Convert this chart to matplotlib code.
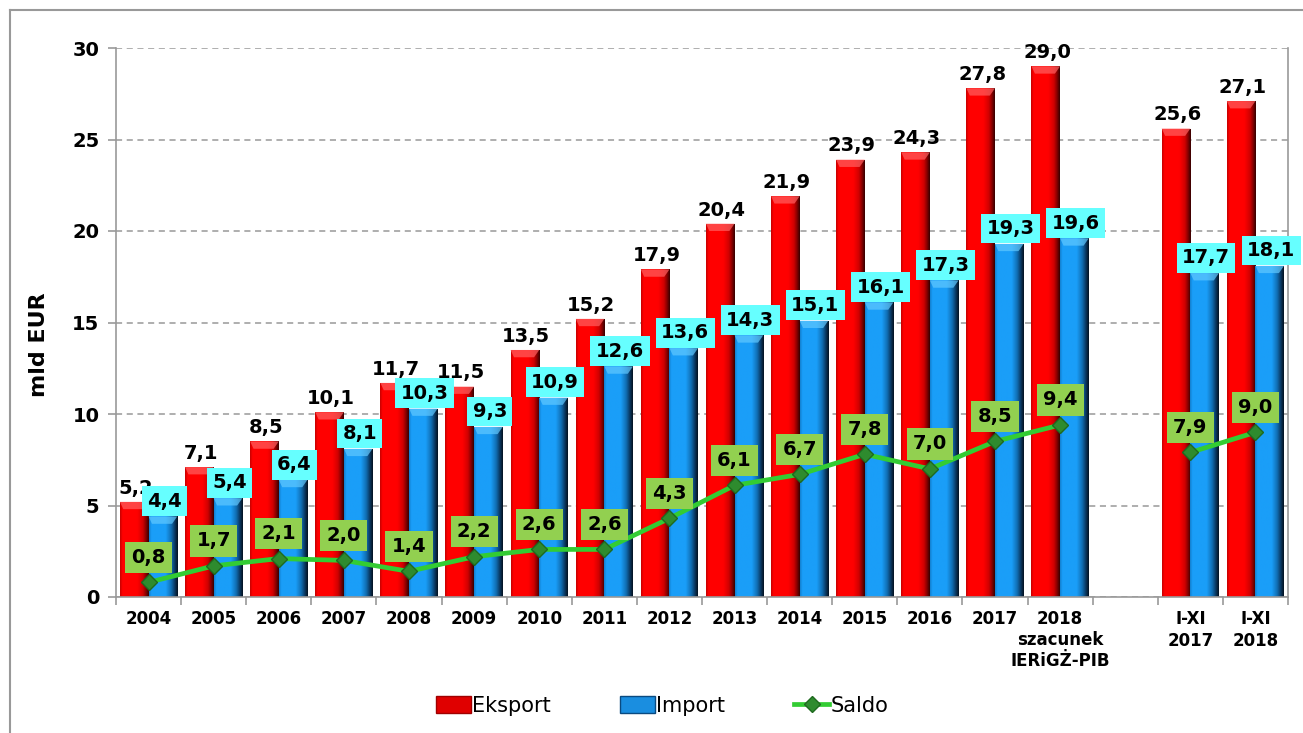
# Eksport / import / saldo - wykres słupkowy z linią

import numpy as np
import matplotlib.pyplot as plt
from matplotlib.colors import LinearSegmentedColormap
from matplotlib.lines import Line2D
from matplotlib.patches import Polygon, Patch

plt.rcParams.update({
    "font.family": ["DejaVu Sans"],
})

categories = ["2004", "2005", "2006", "2007", "2008", "2009", "2010", "2011",
              "2012", "2013", "2014", "2015", "2016", "2017",
              "2018", "", "I-XI\n2017", "I-XI\n2018"]
note_2018 = "szacunek\nIERiGŻ-PIB"
eksport = [5.2, 7.1, 8.5, 10.1, 11.7, 11.5, 13.5, 15.2, 17.9, 20.4, 21.9,
           23.9, 24.3, 27.8, 29.0, None, 25.6, 27.1]
imports = [4.4, 5.4, 6.4, 8.1, 10.3, 9.3, 10.9, 12.6, 13.6, 14.3, 15.1,
           16.1, 17.3, 19.3, 19.6, None, 17.7, 18.1]
saldo = [0.8, 1.7, 2.1, 2.0, 1.4, 2.2, 2.6, 2.6, 4.3, 6.1, 6.7,
         7.8, 7.0, 8.5, 9.4, None, 7.9, 9.0]
yticks = [0, 5, 10, 15, 20, 25, 30]

RED_CMAP = LinearSegmentedColormap.from_list("red", [
    (0.0, "#C80000"), (0.08, "#FF0000"), (0.6, "#FF0000"),
    (0.8, "#D00000"), (0.92, "#7A0000"), (1.0, "#3A0000")])
BLUE_CMAP = LinearSegmentedColormap.from_list("blue", [
    (0.0, "#1280D0"), (0.08, "#1A9EF8"), (0.58, "#1A9EF8"),
    (0.78, "#106CB0"), (0.9, "#0A3760"), (1.0, "#041322")])


def fmt(v):
    return f"{v:.1f}".replace(".", ",")


def gradient_bars(ax, bars, cmap, bevel_color):
    """Słupki z gradientem poziomym i jaśniejszym wierzchem"""
    grad = np.linspace(0, 1, 64).reshape(1, -1)
    for r in bars:
        x0, w, h = r.get_x(), r.get_width(), r.get_height()
        im = ax.imshow(grad, cmap=cmap, extent=(x0, x0 + w, 0, h),
                       aspect="auto", zorder=2, interpolation="bilinear")
        im.set_clip_path(r)
        r.set_facecolor("none")
        r.set_edgecolor("none")
        d = 0.4
        ax.add_patch(Polygon([(x0, h), (x0 + w, h), (x0 + w * 0.82, h - d),
                              (x0 + w * 0.12, h - d)], closed=True,
                             facecolor=bevel_color, edgecolor="none",
                             alpha=0.7, zorder=2.1))


W, H = 1303, 733
fig = plt.figure(figsize=(W / 100, H / 100), dpi=100)
ax = fig.add_axes([116 / W, 1 - 597 / H, 1172 / W, 549 / H])

x = np.arange(len(categories))
bw = 0.44
ex_idx = [i for i, v in enumerate(eksport) if v is not None]
im_idx = [i for i, v in enumerate(imports) if v is not None]

bars_e = ax.bar(x[ex_idx] - bw / 2, [eksport[i] for i in ex_idx], bw, zorder=2)
bars_i = ax.bar(x[im_idx] + bw / 2, [imports[i] for i in im_idx], bw, zorder=2)
gradient_bars(ax, bars_e, RED_CMAP, "#FF6060")
gradient_bars(ax, bars_i, BLUE_CMAP, "#60C8FF")

saldo_arr = np.array([np.nan if v is None else v for v in saldo])
ax.plot(x, saldo_arr, color="#33CC33", lw=3.4, marker="D", markersize=8,
        markerfacecolor="#2E8B2E", markeredgecolor="#1F6A1F", zorder=4)

# etykiety wartości
for i in ex_idx:
    ax.annotate(fmt(eksport[i]), (x[i] - bw / 2, eksport[i]), xytext=(1, 3),
                textcoords="offset points", ha="center", va="bottom",
                fontsize=14, fontweight="bold", zorder=6)
for i in im_idx:
    ax.annotate(fmt(imports[i]), (x[i] + bw / 2, imports[i]), xytext=(1, 11),
                textcoords="offset points", ha="center", va="center",
                fontsize=14, fontweight="bold", zorder=6,
                bbox=dict(boxstyle="square,pad=0.28", fc="#66FFFF", ec="none"))
for i, v in enumerate(saldo):
    if v is None:
        continue
    ax.annotate(fmt(v), (x[i], v), xytext=(0, 18), textcoords="offset points",
                ha="center", va="center", fontsize=14, fontweight="bold",
                zorder=7,
                bbox=dict(boxstyle="square,pad=0.32", fc="#92D050", ec="none"))

# osie
ax.set_xlim(-0.5, len(categories) - 0.5)
ax.set_ylim(0, 30)
ax.set_yticks(yticks)
ax.set_yticklabels([str(t) for t in yticks], fontsize=14, fontweight="bold")
ax.set_xticks(x)
ax.set_xticklabels(categories, fontsize=12, fontweight="bold", linespacing=1.3)
ax.set_xticks(np.arange(len(categories) + 1) - 0.5, minor=True)
ax.tick_params(axis="x", which="major", length=0, pad=9)
ax.tick_params(axis="x", which="minor", length=6, color="#999999", width=1.2)
ax.tick_params(axis="y", length=6, color="#999999", width=1.2, pad=6)
ax.yaxis.grid(True, linestyle=(0, (4, 3)), color="#999999", lw=1.1, zorder=0)
ax.set_axisbelow(True)
for s in ["left", "bottom", "right"]:
    ax.spines[s].set_color("#999999")
    ax.spines[s].set_linewidth(1.2)
ax.spines["top"].set_visible(False)
ax.set_ylabel("mld EUR", fontsize=16, fontweight="bold")
ax.yaxis.set_label_coords(-0.057, 0.46)

# dopisek pod 2018
ax.text(categories.index("2018"), -0.062, note_2018, transform=ax.get_xaxis_transform(),
        ha="center", va="top", fontsize=12, fontweight="bold", linespacing=1.2)

# legenda
handles = [Patch(facecolor="#E00000", edgecolor="#A00000"),
           Patch(facecolor="#1A8EE0", edgecolor="#0A4A80"),
           Line2D([], [], color="#33CC33", lw=3.4, marker="D", markersize=8,
                  markerfacecolor="#2E8B2E", markeredgecolor="#1F6A1F")]
fig.legend(handles, ["Eksport", "Import", "Saldo"], loc="center",
           bbox_to_anchor=(662 / W, 1 - 706 / H), ncol=3, frameon=False,
           fontsize=15, handlelength=1.7, handleheight=0.9,
           handletextpad=0.05, columnspacing=3.3)

# ramka wykresu
fig.add_artist(Line2D([10 / W, 10 / W], [0, 1 - 10 / H], color="#999999",
                      lw=1.5, transform=fig.transFigure))
fig.add_artist(Line2D([10 / W, 1], [1 - 10 / H, 1 - 10 / H], color="#999999",
                      lw=1.5, transform=fig.transFigure))

plt.savefig("out.png", dpi=100)
